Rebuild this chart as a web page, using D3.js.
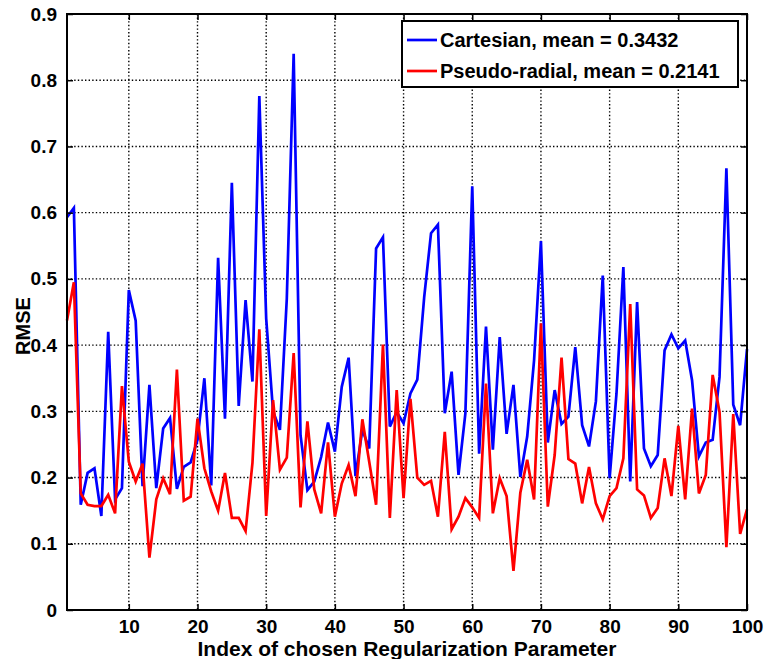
<!DOCTYPE html>
<html>
<head>
<meta charset="utf-8">
<script src="https://cdn.jsdelivr.net/npm/d3@7"></script>
<style>
  body { margin: 0; background: #fff; }
  svg text { font-family: "Liberation Sans", Arial, sans-serif; font-weight: bold; fill: #000; }
</style>
</head>
<body>
<div id="chart"></div>
<script>
// values, index 1..100
const cartesian = [
  0.593, 0.607, 0.159, 0.207, 0.214, 0.142, 0.420, 0.167, 0.184, 0.483,
  0.437, 0.187, 0.340, 0.184, 0.274, 0.290, 0.183, 0.216, 0.223, 0.257,
  0.350, 0.188, 0.532, 0.289, 0.645, 0.308, 0.468, 0.345, 0.776, 0.440,
  0.300, 0.272, 0.470, 0.840, 0.264, 0.181, 0.194, 0.231, 0.283, 0.239,
  0.337, 0.381, 0.202, 0.272, 0.244, 0.546, 0.563, 0.277, 0.299, 0.282,
  0.327, 0.348, 0.472, 0.569, 0.582, 0.297, 0.360, 0.204, 0.297, 0.640,
  0.236, 0.428, 0.242, 0.412, 0.266, 0.340, 0.201, 0.262, 0.377, 0.557,
  0.253, 0.332, 0.281, 0.292, 0.397, 0.279, 0.247, 0.315, 0.505, 0.199,
  0.327, 0.518, 0.194, 0.465, 0.244, 0.217, 0.234, 0.392, 0.416, 0.395,
  0.407, 0.347, 0.232, 0.253, 0.257, 0.352, 0.667, 0.310, 0.279, 0.394
];
const pseudoRadial = [
  0.437, 0.495, 0.176, 0.159, 0.157, 0.157, 0.174, 0.146, 0.338, 0.224,
  0.194, 0.221, 0.079, 0.167, 0.199, 0.175, 0.363, 0.165, 0.171, 0.289,
  0.214, 0.179, 0.150, 0.207, 0.139, 0.139, 0.119, 0.222, 0.424, 0.142,
  0.317, 0.212, 0.230, 0.388, 0.155, 0.285, 0.182, 0.146, 0.253, 0.141,
  0.191, 0.219, 0.172, 0.288, 0.224, 0.159, 0.401, 0.139, 0.332, 0.169,
  0.319, 0.200, 0.189, 0.195, 0.141, 0.269, 0.122, 0.141, 0.169, 0.155,
  0.139, 0.342, 0.146, 0.199, 0.172, 0.059, 0.177, 0.227, 0.167, 0.433,
  0.156, 0.234, 0.381, 0.228, 0.221, 0.161, 0.216, 0.161, 0.137, 0.172,
  0.184, 0.229, 0.462, 0.182, 0.173, 0.139, 0.154, 0.229, 0.172, 0.278,
  0.167, 0.304, 0.176, 0.204, 0.355, 0.299, 0.095, 0.296, 0.115, 0.152
];
const seriesNames = ['Cartesian, mean = 0.3432', 'Pseudo-radial, mean = 0.2141'];
const seriesColors = ['#0000ff', '#ff0000'];
const xTicks = [10, 20, 30, 40, 50, 60, 70, 80, 90, 100];
const yTicks = [0, 0.1, 0.2, 0.3, 0.4, 0.5, 0.6, 0.7, 0.8, 0.9];

const W = 766, H = 659;
const margin = {left: 67, right: 19, top: 14, bottom: 49};
const width = W - margin.left - margin.right;
const height = H - margin.top - margin.bottom;

const svg = d3.select('#chart').append('svg')
  .attr('width', W).attr('height', H);
const g = svg.append('g').attr('transform', `translate(${margin.left},${margin.top})`);

const x = d3.scaleLinear().domain([1, 100]).range([0, width]);
const y = d3.scaleLinear().domain([0, 0.9]).range([height, 0]);

// dotted grid
g.append('g').selectAll('line').data(xTicks.slice(0, -1)).enter().append('line')
  .attr('x1', d => x(d)).attr('x2', d => x(d)).attr('y1', 0).attr('y2', height)
  .attr('stroke', '#000').attr('stroke-width', 1.4).attr('stroke-dasharray', '1.4,2.2');
g.append('g').selectAll('line').data(yTicks.slice(1, -1)).enter().append('line')
  .attr('x1', 0).attr('x2', width).attr('y1', d => y(d)).attr('y2', d => y(d))
  .attr('stroke', '#000').attr('stroke-width', 1.4).attr('stroke-dasharray', '1.4,2.2');

// lines
const line = d3.line().x((d, i) => x(i + 1)).y(d => y(d));
[cartesian, pseudoRadial].forEach((s, k) => {
  g.append('path').datum(s).attr('d', line)
    .attr('fill', 'none').attr('stroke', seriesColors[k])
    .attr('stroke-width', 2.7).attr('stroke-linejoin', 'miter');
});

// axes, ticks pointing inward
function styleAxis(sel) {
  sel.select('.domain').remove();
  sel.selectAll('line').attr('stroke', '#000').attr('stroke-width', 1.5);
  sel.selectAll('text').style('font-size', '19px');
}
g.append('g').attr('transform', `translate(0,${height})`)
  .call(d3.axisBottom(x).tickValues(xTicks).tickSize(-6).tickPadding(10).tickFormat(d3.format('d')))
  .call(styleAxis);
g.append('g')
  .call(d3.axisTop(x).tickValues(xTicks).tickSize(-6).tickFormat(''))
  .call(styleAxis);
g.append('g')
  .call(d3.axisLeft(y).tickValues(yTicks).tickSize(-6).tickPadding(10).tickFormat(d => d === 0 ? '0' : d3.format('.1f')(d)))
  .call(styleAxis);
g.append('g').attr('transform', `translate(${width},0)`)
  .call(d3.axisRight(y).tickValues(yTicks).tickSize(-6).tickFormat(''))
  .call(styleAxis);

g.append('rect').attr('width', width).attr('height', height)
  .attr('fill', 'none').attr('stroke', '#000').attr('stroke-width', 2);

// axis titles
svg.append('text').attr('x', margin.left + width / 2).attr('y', 656)
  .attr('text-anchor', 'middle').style('font-size', '21px')
  .text('Index of chosen Regularization Parameter');
svg.append('text').attr('transform', `translate(30,${margin.top + height / 2 + 14}) rotate(-90)`)
  .attr('text-anchor', 'middle').style('font-size', '20px').text('RMSE');

// legend
const lg = svg.append('g').attr('transform', 'translate(402,21)');
lg.append('rect').attr('width', 336).attr('height', 66)
  .attr('fill', '#fff').attr('stroke', '#000').attr('stroke-width', 2);
seriesNames.forEach((name, k) => {
  const yy = 19 + k * 31;
  lg.append('line').attr('x1', 5).attr('x2', 35).attr('y1', yy).attr('y2', yy)
    .attr('stroke', seriesColors[k]).attr('stroke-width', 2.7);
  lg.append('text').attr('x', 38).attr('y', yy + 7).style('font-size', '20px').text(name);
});
</script>
</body>
</html>
